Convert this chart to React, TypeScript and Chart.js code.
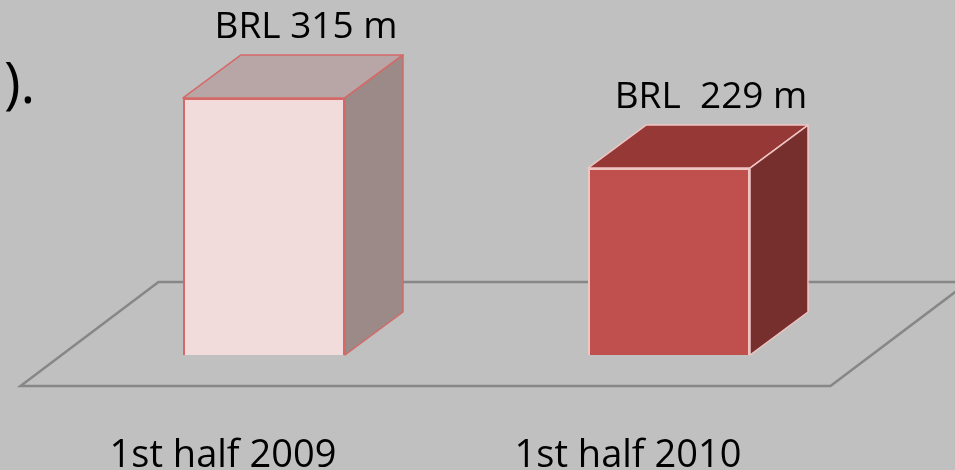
import React, { useEffect, useRef } from "react";
import { Chart, registerables } from "chart.js";
Chart.register(...registerables);

const categories = ["1st half 2009", "1st half 2010"];
const values = [315, 229];
const valueLabels = ["BRL 315 m", "BRL  229 m"];
const frontColors = ["#f2dcdb", "#c0504d"];
const topColors = ["#b8a6a6", "#953836"];
const sideColors = ["#9b8a88", "#772f2e"];
const edgeColors = ["#d46a68", "#efc5c3"];
const fragmentHead = "s";
const fragmentTail = ").";

const FONT = "'Open Sans', sans-serif";
const DX = 58;
const DY = 43;

const bgPlugin = {
  id: "bg",
  beforeDraw(chart: any) {
    const { ctx, width, height } = chart;
    ctx.save();
    ctx.fillStyle = "#c0c0c0";
    ctx.fillRect(0, 0, width, height);
    ctx.restore();
  },
};

const floorPlugin = {
  id: "floor",
  beforeDatasetsDraw(chart: any) {
    const { ctx, chartArea, scales } = chart;
    const base = scales.y.getPixelForValue(0);
    const l = chartArea.left - 41;
    const r = chartArea.right - 41;
    const fy = base + 31;
    const by = base - 73;
    ctx.save();
    ctx.strokeStyle = "#878787";
    ctx.lineWidth = 2.5;
    ctx.beginPath();
    ctx.moveTo(l + 138, by);
    ctx.lineTo(l, fy);
    ctx.lineTo(r, fy);
    ctx.lineTo(r + 138, by);
    ctx.closePath();
    ctx.stroke();
    ctx.restore();
  },
};

const cubePlugin = {
  id: "cube",
  afterDatasetsDraw(chart: any) {
    const { ctx } = chart;
    const meta = chart.getDatasetMeta(0);
    meta.data.forEach((bar: any, i: number) => {
      const { x, y, base, width } = bar.getProps(["x", "y", "base", "width"], true);
      const L = x - width / 2;
      const R = x + width / 2;
      ctx.save();
      ctx.lineJoin = "round";
      ctx.strokeStyle = edgeColors[i];
      ctx.lineWidth = 1.5;
      // top face
      ctx.beginPath();
      ctx.moveTo(L, y);
      ctx.lineTo(R, y);
      ctx.lineTo(R + DX, y - DY);
      ctx.lineTo(L + DX, y - DY);
      ctx.closePath();
      ctx.fillStyle = topColors[i];
      ctx.fill();
      ctx.stroke();
      // side face
      ctx.beginPath();
      ctx.moveTo(R, y);
      ctx.lineTo(R + DX, y - DY);
      ctx.lineTo(R + DX, base - DY);
      ctx.lineTo(R, base);
      ctx.closePath();
      ctx.fillStyle = sideColors[i];
      ctx.fill();
      ctx.stroke();
      // value label
      ctx.fillStyle = "#000";
      ctx.font = `37px ${FONT}`;
      ctx.textAlign = "center";
      ctx.textBaseline = "alphabetic";
      ctx.fillText(valueLabels[i], x + 42, y - DY - 17);
      ctx.restore();
    });
  },
  afterDraw(chart: any) {
    const { ctx } = chart;
    ctx.save();
    ctx.fillStyle = "#000";
    ctx.font = `56px ${FONT}`;
    ctx.textAlign = "left";
    ctx.textBaseline = "alphabetic";
    ctx.fillText(fragmentHead, -28, 103);
    ctx.fillText(fragmentTail, 4, 103);
    ctx.restore();
  },
};

export default function App() {
  const ref = useRef<HTMLCanvasElement>(null);
  useEffect(() => {
    document.body.style.margin = "0";
    document.body.style.background = "#c0c0c0";
    const chart = new Chart(ref.current as HTMLCanvasElement, {
      type: "bar",
      data: {
        labels: categories,
        datasets: [
          {
            data: values,
            backgroundColor: frontColors,
            borderColor: edgeColors,
            borderWidth: 2,
            barPercentage: 0.4,
            categoryPercentage: 1,
          },
        ],
      },
      options: {
        animation: false,
        responsive: false,
        layout: { padding: { left: 61.5, right: 83.5, top: 0, bottom: 0 } },
        plugins: { legend: { display: false }, tooltip: { enabled: false } },
        scales: {
          x: {
            grid: { display: false, drawTicks: false },
            border: { display: false },
            ticks: {
              color: "#000",
              font: { family: FONT, size: 38 },
              padding: 78,
              labelOffset: -41,
            },
            afterFit: (s: any) => {
              s.height = 115;
            },
          },
          y: { display: false, min: 0, max: 435 },
        },
      },
      plugins: [bgPlugin, floorPlugin, cubePlugin],
    });
    return () => chart.destroy();
  }, []);
  return (
    <div style={{ width: 955, height: 470, background: "#c0c0c0" }}>
      <canvas ref={ref} width={955} height={470} />
    </div>
  );
}
